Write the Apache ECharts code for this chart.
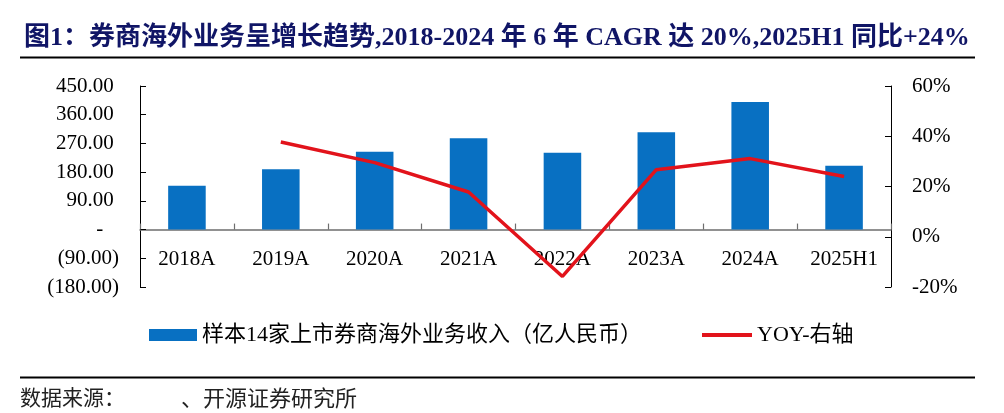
<!DOCTYPE html>
<html>
<head>
<meta charset="utf-8">
<script src="https://cdn.jsdelivr.net/npm/echarts@6/dist/echarts.min.js"></script>
<style>
html,body{margin:0;padding:0;background:#fff;}
#chart{width:1004px;height:413px;}
</style>
</head>
<body>
<div id="chart"></div>
<script>
const categories = ['2018A','2019A','2020A','2021A','2022A','2023A','2024A','2025H1'];
const revenue = [137, 189, 244, 286, 241, 305, 400, 200];
const yoy = [null, 37.7, 29.5, 17.8, -15.8, 26.7, 31.1, 24.0];
const seriesNames = ['样本14家上市券商海外业务收入（亿人民币）', 'YOY-右轴'];
const titleText = '图1：券商海外业务呈增长趋势,2018-2024 年 6 年 CAGR 达 20%,2025H1 同比+24%';
const sourceLabel = '数据来源：';
const sourceText = '、开源证券研究所';

const SERIF = '"Liberation Serif","Times New Roman","Noto Sans CJK SC",serif';

const chart = echarts.init(document.getElementById('chart'), null, {renderer: 'canvas'});

function leftFmt(v) {
  if (v === 0) return '-   ';
  if (v < 0) return '(' + Math.abs(v).toFixed(2) + ')';
  return v.toFixed(2) + ' ';
}

const gridTop = 86, gridBottom = 126, chartH = 413;
const yMin = -180, yMax = 450;
const plotH = chartH - gridTop - gridBottom;
const zeroOffset = -plotH * (0 - yMin) / (yMax - yMin);

chart.setOption({
  animation: false,
  backgroundColor: '#fff',
  title: [
    {
      text: titleText,
      left: 24, top: 25, padding: 0,
      textStyle: {fontFamily: SERIF, fontSize: 26, fontWeight: 'bold', color: '#101566'}
    },
    {
      text: sourceLabel,
      left: 20, top: 389, padding: 0,
      textStyle: {fontFamily: SERIF, fontSize: 21, fontWeight: 'normal', color: '#222'}
    },
    {
      text: sourceText,
      left: 181, top: 389, padding: 0,
      textStyle: {fontFamily: SERIF, fontSize: 22, fontWeight: 'normal', color: '#222'}
    }
  ],
  graphic: [
    {type: 'line', shape: {x1: 20, y1: 57.5, x2: 975, y2: 57.5}, style: {stroke: '#000', lineWidth: 2}},
    {type: 'line', shape: {x1: 20, y1: 377.5, x2: 975, y2: 377.5}, style: {stroke: '#000', lineWidth: 2}}
  ],
  legend: [
    {
      data: [{name: seriesNames[0], icon: 'rect'}],
      left: 149, top: 324, padding: 0,
      itemWidth: 48, itemHeight: 12, itemGap: 0,
      textStyle: {fontFamily: SERIF, fontSize: 22, color: '#000'}
    },
    {
      data: [{name: seriesNames[1], icon: 'path://M0,0L50,0L50,4L0,4Z'}],
      left: 702, top: 324, padding: 0,
      itemWidth: 50, itemHeight: 12, itemGap: 0,
      textStyle: {fontFamily: SERIF, fontSize: 22, color: '#000'}
    }
  ],
  grid: {left: 140, right: 113, top: gridTop, bottom: gridBottom, containLabel: false},
  xAxis: {
    type: 'category',
    data: categories,
    boundaryGap: true,
    offset: zeroOffset,
    axisLine: {onZero: false, lineStyle: {color: '#6e6e6e', width: 1.5}},
    axisTick: {show: true, inside: true, length: 6, lineStyle: {color: '#6e6e6e', width: 1.2}},
    axisLabel: {fontFamily: SERIF, fontSize: 21, color: '#000', margin: 19, interval: 0},
    splitLine: {show: false}
  },
  yAxis: [
    {
      type: 'value',
      min: yMin, max: yMax, interval: 90,
      axisLine: {show: true, lineStyle: {color: '#000', width: 1}},
      axisTick: {show: true, inside: true, length: 6, lineStyle: {color: '#000'}},
      axisLabel: {fontFamily: SERIF, fontSize: 21, color: '#000', margin: 21, formatter: leftFmt},
      splitLine: {show: false}
    },
    {
      type: 'value',
      min: -20, max: 60, interval: 20,
      position: 'right',
      axisLine: {show: true, lineStyle: {color: '#000', width: 1}},
      axisTick: {show: true, inside: true, length: 6, lineStyle: {color: '#000'}},
      axisLabel: {fontFamily: SERIF, fontSize: 21, color: '#000', margin: 21, formatter: '{value}%'},
      splitLine: {show: false}
    }
  ],
  series: [
    {
      name: seriesNames[0],
      type: 'bar',
      data: revenue,
      barWidth: '40%',
      itemStyle: {color: '#0870C2'},
      yAxisIndex: 0
    },
    {
      name: seriesNames[1],
      type: 'line',
      data: yoy,
      yAxisIndex: 1,
      symbol: 'none',
      connectNulls: false,
      lineStyle: {color: '#E2131B', width: 3.5},
      itemStyle: {color: '#E2131B'},
      z: 5
    }
  ]
});
</script>
</body>
</html>
